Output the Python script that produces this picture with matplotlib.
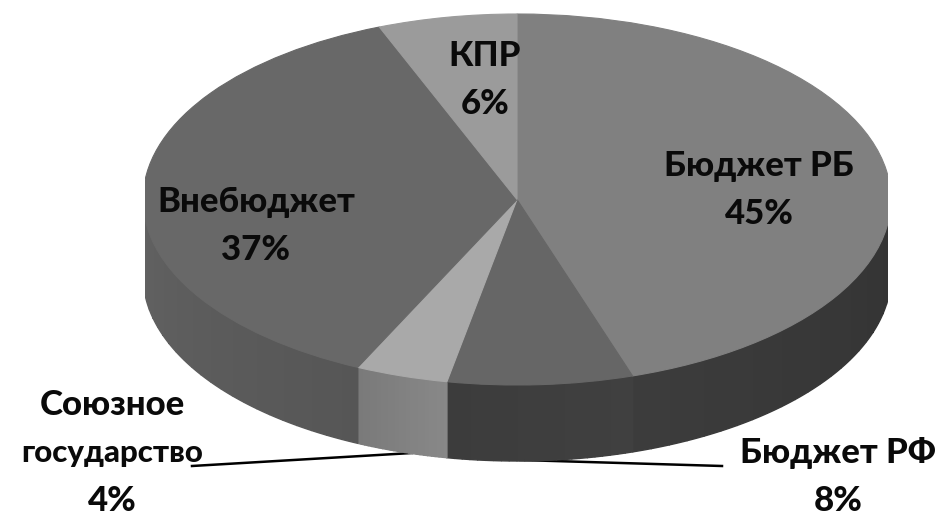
import matplotlib
matplotlib.use('Agg')
import matplotlib.pyplot as plt
import numpy as np

# funding shares, clockwise from 12 o'clock
categories = ['Бюджет РБ', 'Бюджет РФ', 'Союзное\nгосударство', 'Внебюджет', 'КПР']
values = [45, 8, 4, 37, 6]
top_colors = ['#808080', '#666666', '#a9a9a9', '#686868', '#9b9b9b']
# wall shade at the start and end of each slice
wall_colors = [('#333333', '#3c3c3c'), ('#404040', '#3c3c3c'), ('#888888', '#7a7a7a'),
               ('#565656', '#626262'), ('#000000', '#000000')]

W, H = 952, 516
cx, cy = 517, 199.5
rx, ry = 374, 185.5
depth = 76 / ry
left, right = 145, 888

fig = plt.figure(figsize=(W / 100, H / 100), dpi=100)
ax = fig.add_axes([left / W, 0, (right - left) / W, 1])

wedges, _ = ax.pie(values, colors=top_colors, startangle=90, counterclock=False,
                   radius=1, wedgeprops={'linewidth': 0.8, 'zorder': 3})
for w in wedges:
    w.set_clip_on(True)
    w.set_edgecolor(w.get_facecolor())

# stretch the unit circle into the tilted ellipse, in pixel-like units
ax.set_aspect('auto')
ax.set_xlim((left - cx) / rx, (right - cx) / rx)
ax.set_ylim((cy - H) / ry, cy / ry)


def wall(t0, t1, c0, c1, strips=24):
    # side of the disc between two clockwise angles, built from shaded strips
    edges = np.linspace(t0, t1, strips + 1)
    a = np.array(matplotlib.colors.to_rgb(c0))
    b = np.array(matplotlib.colors.to_rgb(c1))
    for i in range(strips):
        tt = np.radians(np.linspace(edges[i], edges[i + 1], 6))
        x = np.sin(tt)
        y = np.cos(tt)
        col = a + (b - a) * i / max(strips - 1, 1)
        ax.fill(np.r_[x, x[::-1]], np.r_[y, y[::-1] - depth], color=col, lw=1, zorder=2)


ends = np.cumsum(values) / sum(values) * 360
starts = np.r_[0, ends[:-1]]
for s, e, (c0, c1) in zip(starts, ends, wall_colors):
    s2, e2 = max(s, 90), min(e, 270)
    if e2 > s2:
        wall(s2, e2, c0, c1)

font = {'family': ['Lato', 'Noto Sans'], 'fontweight': 'black',
        'color': '#0a0a0a', 'ha': 'center', 'va': 'center'}
line_gap = 48


def px(x, y):
    return (x - cx) / rx, (cy - y) / ry


# centre of the first text line of each label
label_pos = [(759, 166), (838, 453), (112, 405), (256, 202), (485, 56)]
for name, v, (x, y) in zip(categories, values, label_pos):
    for i, line in enumerate(f'{name}\n{v}%'.split('\n')):
        size = 22.5 if len(line) > 10 else 25
        ax.text(*px(x, y + i * line_gap), line, fontsize=size, zorder=5, **font)

# leader lines for the two small outer labels
for (x0, y0), (x1, y1) in [((192, 466), (412, 453)), ((520, 460), (722, 466))]:
    p0, p1 = px(x0, y0), px(x1, y1)
    ax.plot([p0[0], p1[0]], [p0[1], p1[1]], color='black', lw=1.8, zorder=1)

plt.savefig('out.png', dpi=100)
plt.close(fig)
